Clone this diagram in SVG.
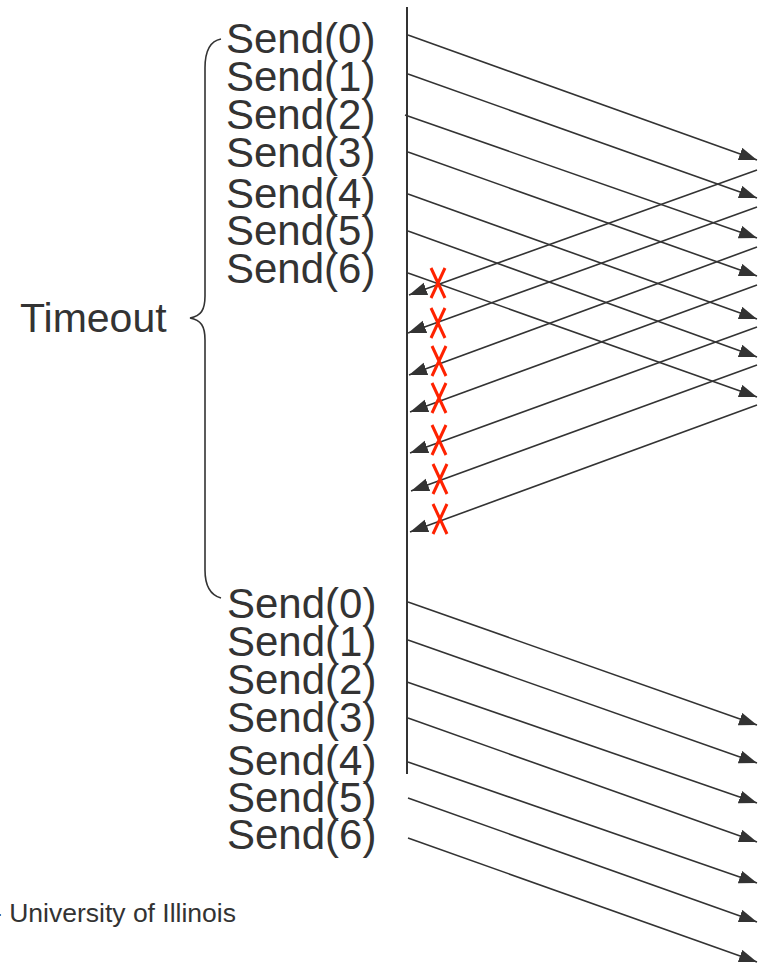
<svg xmlns="http://www.w3.org/2000/svg" width="758" height="966" viewBox="0 0 758 966">
<style>
.lbl{font-family:"Liberation Sans",Arial,sans-serif;font-size:42px;fill:#333}
.msg{stroke:#333;stroke-width:1.6;fill:none;marker-end:url(#ah)}
.x{stroke:#ff2200;stroke-width:3;fill:none}
</style>
<defs>
<marker id="ah" markerUnits="userSpaceOnUse" markerWidth="19" markerHeight="14" refX="18" refY="6.5" orient="auto">
<path d="M0,0 L18,6.5 L0,13 z" fill="#333"/>
</marker>
</defs>
<rect width="758" height="966" fill="#fff"/>
<g id="timeline"><line x1="407" y1="7" x2="407" y2="774" stroke="#333" stroke-width="2"/></g>
<g id="labels-top">
<text class="lbl" x="226" y="53">Send(0)</text>
<text class="lbl" x="226" y="91">Send(1)</text>
<text class="lbl" x="226" y="129">Send(2)</text>
<text class="lbl" x="226" y="167">Send(3)</text>
<text class="lbl" x="226" y="208">Send(4)</text>
<text class="lbl" x="226" y="245">Send(5)</text>
<text class="lbl" x="226" y="283">Send(6)</text>
</g>
<g id="labels-bottom">
<text class="lbl" x="227" y="618">Send(0)</text>
<text class="lbl" x="227" y="656">Send(1)</text>
<text class="lbl" x="227" y="694">Send(2)</text>
<text class="lbl" x="227" y="732">Send(3)</text>
<text class="lbl" x="227" y="775">Send(4)</text>
<text class="lbl" x="227" y="812">Send(5)</text>
<text class="lbl" x="227" y="849">Send(6)</text>
</g>
<g id="timeout">
<path d="M221,39 C210,41 205,50 205,68 L205,296 C205,310 201,316 190,318 C201,320 205,326 205,340 L205,570 C205,586 210,595 221,598" stroke="#333" stroke-width="1.6" fill="none"/>
<text class="lbl" x="20" y="332" style="font-size:41px">Timeout</text>
</g>
<g id="connectors">
<line class="msg" x1="408" y1="35" x2="757" y2="160"/>
<line class="msg" x1="408" y1="74" x2="757" y2="198"/>
<line class="msg" x1="405" y1="115" x2="757" y2="238"/>
<line class="msg" x1="408" y1="152" x2="757" y2="276"/>
<line class="msg" x1="408" y1="194" x2="757" y2="319"/>
<line class="msg" x1="408" y1="231" x2="757" y2="357"/>
<line class="msg" x1="408" y1="273" x2="757" y2="397"/>
<line class="msg" x1="757" y1="170" x2="409" y2="295"/>
<line class="msg" x1="757" y1="207" x2="408" y2="333"/>
<line class="msg" x1="757" y1="247" x2="409" y2="375"/>
<line class="msg" x1="757" y1="285" x2="410" y2="412"/>
<line class="msg" x1="757" y1="327" x2="410" y2="453"/>
<line class="msg" x1="757" y1="365" x2="411" y2="491"/>
<line class="msg" x1="757" y1="405" x2="410" y2="532"/>
<line class="msg" x1="408" y1="602" x2="757" y2="725"/>
<line class="msg" x1="408" y1="640" x2="757" y2="763"/>
<line class="msg" x1="407" y1="682" x2="757" y2="803"/>
<line class="msg" x1="408" y1="718" x2="757" y2="842"/>
<line class="msg" x1="408" y1="762" x2="757" y2="883"/>
<line class="msg" x1="408" y1="798" x2="757" y2="922"/>
<line class="msg" x1="408" y1="838" x2="757" y2="962"/>
</g>
<g id="losses">
<path class="x" d="M431,268 L445,298 M445,268 L431,298"/>
<path class="x" d="M431,308 L445,338 M445,308 L431,338"/>
<path class="x" d="M432,346 L446,376 M446,346 L432,376"/>
<path class="x" d="M432,383 L446,413 M446,383 L432,413"/>
<path class="x" d="M432,425 L446,455 M446,425 L432,455"/>
<path class="x" d="M433,464 L447,494 M447,464 L433,494"/>
<path class="x" d="M433,504 L447,534 M447,504 L433,534"/>
</g>
<g id="footer"><text x="-7" y="922" style="font-family:'Liberation Sans',Arial,sans-serif;font-size:26.5px;fill:#333">- University of Illinois</text></g>
</svg>
